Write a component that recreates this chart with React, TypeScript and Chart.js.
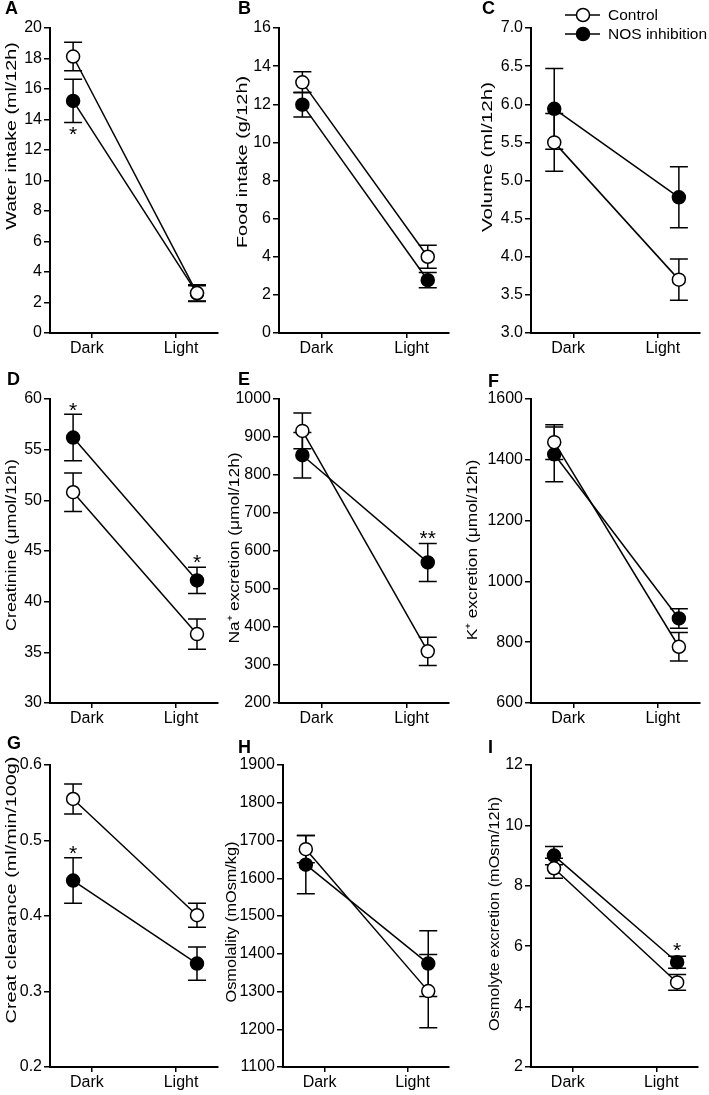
import React, { useEffect, useRef } from 'react';
import { Chart, registerables } from 'chart.js';

Chart.register(...registerables);

const FONT = '"Liberation Sans", Arial, Helvetica, sans-serif';

// ---- shared categories ----
const xLabels = ['Dark', 'Light'];
const xTickPos = [1, 3];
const xLabelPos = [0.88, 3.12];
const xPointPos = [0.55, 3.5];
const seriesNames = ['Control', 'NOS inhibition'];

// ---- A: water intake ----
const waterTicks = [0, 2, 4, 6, 8, 10, 12, 14, 16, 18, 20];
const waterControl = [18.13, 2.62];
const waterControlErr = [0.93, 0.55];
const waterNos = [15.22, 2.6];
const waterNosErr = [1.42, 0.5];
const waterStars = [{ cat: 0, y: 13.4, text: '*' }];

// ---- B: food intake ----
const foodTicks = [0, 2, 4, 6, 8, 10, 12, 14, 16];
const foodControl = [13.15, 4.0];
const foodControlErr = [0.55, 0.6];
const foodNos = [11.98, 2.77];
const foodNosErr = [0.65, 0.4];
const foodStars: { cat: number; y: number; text: string }[] = [];

// ---- C: volume ----
const volumeTicks = [3.0, 3.5, 4.0, 4.5, 5.0, 5.5, 6.0, 6.5, 7.0];
const volumeControl = [5.5, 3.7];
const volumeControlErr = [0.38, 0.27];
const volumeNos = [5.94, 4.78];
const volumeNosErr = [0.53, 0.4];
const volumeStars: { cat: number; y: number; text: string }[] = [];

// ---- D: creatinine ----
const creatTicks = [30, 35, 40, 45, 50, 55, 60];
const creatControl = [50.8, 36.8];
const creatControlErr = [1.9, 1.5];
const creatNos = [56.2, 42.1];
const creatNosErr = [2.3, 1.3];
const creatStars = [
  { cat: 0, y: 59.4, text: '*' },
  { cat: 1, y: 44.4, text: '*' },
];

// ---- E: Na+ excretion ----
const naTicks = [200, 300, 400, 500, 600, 700, 800, 900, 1000];
const naControl = [916, 336];
const naControlErr = [47, 37];
const naNos = [852, 570];
const naNosErr = [60, 50];
const naStars = [{ cat: 1, y: 648, text: '**' }];

// ---- F: K+ excretion ----
const kTicks = [600, 800, 1000, 1200, 1400, 1600];
const kControl = [1458, 785];
const kControlErr = [57, 47];
const kNos = [1418, 878];
const kNosErr = [90, 32];
const kStars: { cat: number; y: number; text: string }[] = [];

// ---- G: creatinine clearance ----
const clearTicks = [0.2, 0.3, 0.4, 0.5, 0.6];
const clearControl = [0.555, 0.401];
const clearControlErr = [0.02, 0.016];
const clearNos = [0.447, 0.337];
const clearNosErr = [0.03, 0.022];
const clearStars = [{ cat: 0, y: 0.49, text: '*' }];

// ---- H: osmolality ----
const osmTicks = [1100, 1200, 1300, 1400, 1500, 1600, 1700, 1800, 1900];
const osmControl = [1677, 1301];
const osmControlErr = [36, 97];
const osmNos = [1636, 1374];
const osmNosErr = [77, 87];
const osmStars: { cat: number; y: number; text: string }[] = [];

// ---- I: osmolyte excretion ----
const osmexTicks = [2, 4, 6, 8, 10, 12];
const osmexControl = [8.58, 4.8];
const osmexControlErr = [0.33, 0.26];
const osmexNos = [9.0, 5.47];
const osmexNosErr = [0.3, 0.2];
const osmexStars = [{ cat: 1, y: 6.05, text: '*' }];

type Star = { cat: number; y: number; text: string };
type PanelCfg = {
  letter: string;
  title: string;
  ticks: number[];
  decimals: number;
  control: number[];
  controlErr: number[];
  nos: number[];
  nosErr: number[];
  stars: Star[];
  axisX: number;
  axisEnd: number;
  axisTop: number;
  axisBottom: number;
  titleC: number;
  titleCY: number;
  titleStretch: number;
  letterX: number;
  letterY: number;
  legend?: boolean;
};

const panels: PanelCfg[] = [
  { letter: 'A', title: 'Water intake (ml/12h)', ticks: waterTicks, decimals: 0, control: waterControl, controlErr: waterControlErr, nos: waterNos, nosErr: waterNosErr, stars: waterStars, axisX: 50, axisEnd: 218, axisTop: 28, axisBottom: 333, titleC: 12, titleCY: 136, titleStretch: 1.27, letterX: 5, letterY: -2 },
  { letter: 'B', title: 'Food intake (g/12h)', ticks: foodTicks, decimals: 0, control: foodControl, controlErr: foodControlErr, nos: foodNos, nosErr: foodNosErr, stars: foodStars, axisX: 279, axisEnd: 449, axisTop: 28, axisBottom: 333, titleC: 243, titleCY: 162, titleStretch: 1.28, letterX: 238, letterY: -2 },
  { letter: 'C', title: 'Volume (ml/12h)', ticks: volumeTicks, decimals: 1, control: volumeControl, controlErr: volumeControlErr, nos: volumeNos, nosErr: volumeNosErr, stars: volumeStars, axisX: 531, axisEnd: 700, axisTop: 28, axisBottom: 333, titleC: 488, titleCY: 157, titleStretch: 1.33, letterX: 482, letterY: -2, legend: true },
  { letter: 'D', title: 'Creatinine (μmol/12h)', ticks: creatTicks, decimals: 0, control: creatControl, controlErr: creatControlErr, nos: creatNos, nosErr: creatNosErr, stars: creatStars, axisX: 50, axisEnd: 218, axisTop: 399, axisBottom: 703, titleC: 12, titleCY: 545, titleStretch: 1.15, letterX: 7, letterY: 369 },
  { letter: 'E', title: 'Na⁺ excretion (μmol/12h)', ticks: naTicks, decimals: 0, control: naControl, controlErr: naControlErr, nos: naNos, nosErr: naNosErr, stars: naStars, axisX: 279, axisEnd: 449, axisTop: 399, axisBottom: 703, titleC: 235, titleCY: 548, titleStretch: 1.12, letterX: 238, letterY: 369 },
  { letter: 'F', title: 'K⁺ excretion (μmol/12h)', ticks: kTicks, decimals: 0, control: kControl, controlErr: kControlErr, nos: kNos, nosErr: kNosErr, stars: kStars, axisX: 531, axisEnd: 700, axisTop: 399, axisBottom: 703, titleC: 473, titleCY: 550, titleStretch: 1.12, letterX: 488, letterY: 371 },
  { letter: 'G', title: 'Creat clearance (ml/min/100g)', ticks: clearTicks, decimals: 1, control: clearControl, controlErr: clearControlErr, nos: clearNos, nosErr: clearNosErr, stars: clearStars, axisX: 50, axisEnd: 218, axisTop: 765, axisBottom: 1067, titleC: 12, titleCY: 890, titleStretch: 1.28, letterX: 7, letterY: 733 },
  { letter: 'H', title: 'Osmolality (mOsm/kg)', ticks: osmTicks, decimals: 0, control: osmControl, controlErr: osmControlErr, nos: osmNos, nosErr: osmNosErr, stars: osmStars, axisX: 283, axisEnd: 449, axisTop: 765, axisBottom: 1067, titleC: 232, titleCY: 922, titleStretch: 1.05, letterX: 238, letterY: 737 },
  { letter: 'I', title: 'Osmolyte excretion (mOsm/12h)', ticks: osmexTicks, decimals: 0, control: osmexControl, controlErr: osmexControlErr, nos: osmexNos, nosErr: osmexNosErr, stars: osmexStars, axisX: 531, axisEnd: 698, axisTop: 765, axisBottom: 1067, titleC: 495, titleCY: 914, titleStretch: 1.05, letterX: 488, letterY: 737 },
];

const PAD_TOP = 28;
const PAD_RIGHT = 12;
const X_H = 34;
const TICK_SIZE = 16;
const TITLE_SIZE = 15.5;
const CAP = 9;
const POINT_R = 6.5;

const errorBarPlugin = {
  id: 'errorBars',
  beforeDatasetsDraw(chart: any) {
    const { ctx } = chart;
    const xs = chart.scales.x;
    const ys = chart.scales.y;
    ctx.save();
    ctx.strokeStyle = '#000';
    ctx.lineWidth = 1.5;
    chart.data.datasets.forEach((ds: any) => {
      ds.data.forEach((p: any, i: number) => {
        const e = ds.errors[i];
        const px = xs.getPixelForValue(p.x);
        const top = ys.getPixelForValue(p.y + e);
        const bot = ys.getPixelForValue(p.y - e);
        ctx.beginPath();
        ctx.moveTo(px, top);
        ctx.lineTo(px, bot);
        ctx.moveTo(px - CAP, top);
        ctx.lineTo(px + CAP, top);
        ctx.moveTo(px - CAP, bot);
        ctx.lineTo(px + CAP, bot);
        ctx.stroke();
      });
    });
    ctx.restore();
  },
};

const starPlugin = {
  id: 'stars',
  afterDatasetsDraw(chart: any, _args: any, opts: any) {
    const stars: Star[] = opts.items || [];
    const { ctx } = chart;
    const xs = chart.scales.x;
    const ys = chart.scales.y;
    const size = 21;
    ctx.save();
    ctx.fillStyle = '#000';
    ctx.font = `${size}px ${FONT}`;
    ctx.textAlign = 'center';
    ctx.textBaseline = 'alphabetic';
    stars.forEach((s) => {
      const px = xs.getPixelForValue(xPointPos[s.cat]);
      const py = ys.getPixelForValue(s.y);
      ctx.fillText(s.text, px, py + size * 0.58);
    });
    ctx.restore();
  },
};

const xLabelPlugin = {
  id: 'xLabels',
  afterDraw(chart: any) {
    const { ctx, chartArea } = chart;
    const xs = chart.scales.x;
    ctx.save();
    ctx.fillStyle = '#000';
    ctx.font = `${TICK_SIZE}px ${FONT}`;
    ctx.textAlign = 'center';
    ctx.textBaseline = 'middle';
    xLabels.forEach((lab, i) => {
      ctx.fillText(lab, xs.getPixelForValue(xLabelPos[i]), chartArea.bottom + 16);
    });
    ctx.restore();
  },
};

const yTitlePlugin = {
  id: 'yTitle',
  afterDraw(chart: any, _args: any, opts: any) {
    if (!opts.text) return;
    const { ctx } = chart;
    ctx.save();
    ctx.translate(opts.x, opts.y);
    ctx.rotate(-Math.PI / 2);
    ctx.scale(opts.stretch, 1);
    ctx.fillStyle = '#000';
    ctx.font = `${TITLE_SIZE}px ${FONT}`;
    ctx.textAlign = 'center';
    ctx.textBaseline = 'middle';
    ctx.fillText(opts.text, 0, 0);
    ctx.restore();
  },
};

const legendPlugin = {
  id: 'customLegend',
  afterDraw(chart: any, _args: any, opts: any) {
    if (!opts.show) return;
    const { ctx, chartArea } = chart;
    const x0 = chartArea.left;
    const y0 = chartArea.top;
    const rows = [
      { label: seriesNames[0], fill: '#fff', dy: -13 },
      { label: seriesNames[1], fill: '#000', dy: 6 },
    ];
    ctx.save();
    rows.forEach((r) => {
      const y = y0 + r.dy;
      ctx.strokeStyle = '#000';
      ctx.lineWidth = 1.5;
      ctx.beginPath();
      ctx.moveTo(x0 + 34, y);
      ctx.lineTo(x0 + 69, y);
      ctx.stroke();
      ctx.beginPath();
      ctx.arc(x0 + 52, y, POINT_R, 0, Math.PI * 2);
      ctx.fillStyle = r.fill;
      ctx.fill();
      ctx.stroke();
      ctx.fillStyle = '#000';
      ctx.font = `15.5px ${FONT}`;
      ctx.textAlign = 'left';
      ctx.textBaseline = 'middle';
      ctx.fillText(r.label, x0 + 77, y + 1);
    });
    ctx.restore();
  },
};

function Panel({ cfg }: { cfg: PanelCfg }) {
  const ref = useRef<HTMLCanvasElement>(null);
  const CL = Math.round(cfg.titleC - 14);
  const CT = cfg.axisTop - PAD_TOP;
  const W = cfg.axisEnd + PAD_RIGHT - CL;
  const H = cfg.axisBottom + X_H - CT;
  const yw = cfg.axisX - CL;

  useEffect(() => {
    if (!ref.current) return;
    const tickFont = { family: FONT, size: TICK_SIZE };
    const grid = {
      display: true,
      drawOnChartArea: false,
      drawTicks: true,
      tickLength: 6,
      color: '#000',
      lineWidth: 1.5,
    };
    const border = { display: true, color: '#000', width: 2 };
    const mk = (vals: number[]) => xPointPos.map((x, i) => ({ x, y: vals[i] }));
    const chart = new Chart(ref.current, {
      type: 'line',
      data: {
        datasets: [
          {
            label: seriesNames[0],
            data: mk(cfg.control),
            errors: cfg.controlErr,
            borderColor: '#000',
            borderWidth: 1.5,
            pointRadius: POINT_R,
            pointBackgroundColor: '#fff',
            pointBorderColor: '#000',
            pointBorderWidth: 1.5,
            clip: false,
          } as any,
          {
            label: seriesNames[1],
            data: mk(cfg.nos),
            errors: cfg.nosErr,
            borderColor: '#000',
            borderWidth: 1.5,
            pointRadius: POINT_R,
            pointBackgroundColor: '#000',
            pointBorderColor: '#000',
            pointBorderWidth: 1.5,
            clip: false,
          } as any,
        ],
      },
      options: {
        animation: false,
        responsive: false,
        maintainAspectRatio: false,
        events: [],
        layout: { padding: { top: PAD_TOP, right: PAD_RIGHT, bottom: 0, left: 0 } },
        plugins: {
          legend: { display: false },
          tooltip: { enabled: false },
          stars: { items: cfg.stars },
          customLegend: { show: !!cfg.legend },
          yTitle: { text: cfg.title, x: cfg.titleC - CL, y: cfg.titleCY - CT, stretch: cfg.titleStretch },
        } as any,
        scales: {
          x: {
            type: 'linear',
            min: 0,
            max: 4,
            afterBuildTicks: (s: any) => {
              s.ticks = xTickPos.map((v) => ({ value: v }));
            },
            afterFit: (s: any) => {
              s.height = X_H;
            },
            ticks: {
              display: false,
              autoSkip: false,
            },
            grid: { ...grid, tickLength: 5 },
            border,
          },
          y: {
            type: 'linear',
            min: cfg.ticks[0],
            max: cfg.ticks[cfg.ticks.length - 1],
            afterBuildTicks: (s: any) => {
              s.ticks = cfg.ticks.map((v) => ({ value: v }));
            },
            afterFit: (s: any) => {
              s.width = yw;
            },
            ticks: {
              callback: (v: any) => Number(v).toFixed(cfg.decimals),
              font: tickFont,
              color: '#000',
              padding: 2,
              autoSkip: false,
            },
            grid,
            border,
          },
        } as any,
      },
      plugins: [errorBarPlugin, starPlugin, legendPlugin, yTitlePlugin, xLabelPlugin],
    } as any);
    return () => chart.destroy();
  }, []);

  return (
    <canvas
      ref={ref}
      width={W}
      height={H}
      style={{ position: 'absolute', left: CL, top: CT, width: W, height: H }}
    />
  );
}

export default function App() {
  return (
    <div style={{ position: 'absolute', left: 0, top: 0, width: 709, height: 1095, background: '#fff' }}>
      {panels.map((p) => (
        <Panel key={p.letter} cfg={p} />
      ))}
      {panels.map((p) => (
        <div
          key={'letter-' + p.letter}
          style={{
            position: 'absolute',
            left: p.letterX,
            top: p.letterY,
            fontFamily: FONT,
            fontWeight: 'bold',
            fontSize: 18,
            lineHeight: '20px',
            color: '#000',
          }}
        >
          {p.letter}
        </div>
      ))}
    </div>
  );
}
